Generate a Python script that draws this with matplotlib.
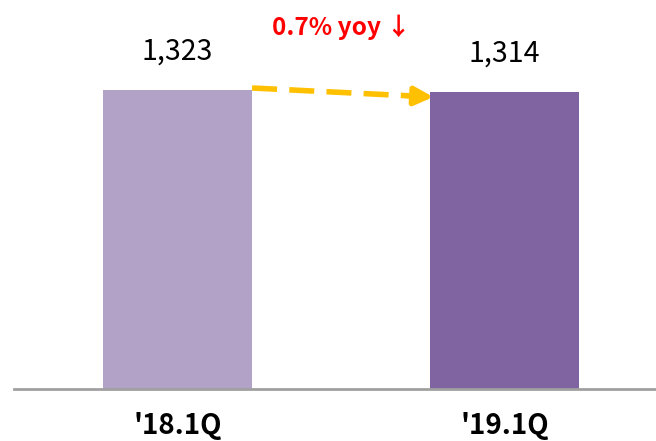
import matplotlib
matplotlib.use("Agg")
import matplotlib.pyplot as plt

plt.rcParams['font.family'] = ['Noto Sans CJK KR', 'DejaVu Sans']

# data
periods = ["'18.1Q", "'19.1Q"]
values = [1323, 1314]
colors = ["#B3A2C7", "#8064A2"]
change_label = "0.7% yoy \u2193"

fig = plt.figure(figsize=(6.56, 4.41), dpi=100)
ax = fig.add_axes([14/656, 0.119, 1 - 14/656, 0.881])

x = list(range(len(values)))
w = 0.456
ax.bar(x, values, width=w, color=colors, zorder=2)

for xi, v in zip(x, values):
    ax.text(xi, v + 172, f"{v:,}", ha='center', va='center', fontsize=20.5, color='black')

# dashed arrow between bar tops
x0, y0 = x[0] + w/2, values[0] + 9
x1, y1 = x[1] - w/2 + 0.01, values[1] - 22
slope = (y0 - y1) / (x1 - x0)
ax.plot([x0, x1 - 0.07], [y0, y1 + slope * 0.07], color='#FFC000',
        lw=4, dashes=(4.5, 2.2), solid_capstyle='butt', zorder=3)
ax.annotate("", xy=(x1, y1), xytext=(x1 - 0.08, y1 + slope * 0.08),
            arrowprops=dict(arrowstyle='-|>,head_length=1.1,head_width=0.55', color='#FFC000',
                            lw=4, shrinkA=0, shrinkB=0), zorder=3)

ax.text(0.5, 1602, change_label, ha='center', va='center', fontsize=17.5,
        color='#FF0000', fontweight='bold')

ax.set_xlim(-0.5, 1.463)
ax.set_ylim(0, 1722)
ax.set_xticks(x)
ax.set_xticklabels(periods, fontsize=20, fontweight='bold')
ax.tick_params(axis='x', length=0, pad=17)
ax.set_yticks([])
for s in ['top', 'right', 'left']:
    ax.spines[s].set_visible(False)
ax.spines['bottom'].set_color('#A0A0A0')
ax.spines['bottom'].set_linewidth(2)

fig.savefig("out.png", dpi=100)
